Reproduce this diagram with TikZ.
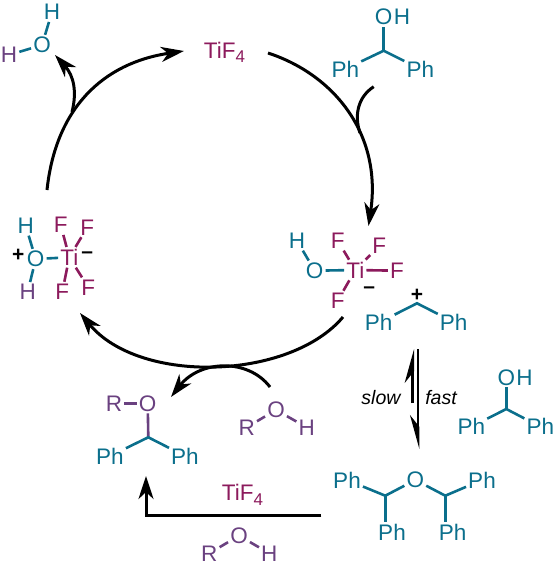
\documentclass[tikz,border=0pt]{standalone}
\usepackage{fontspec}
\setmainfont{Liberation Sans}
\usetikzlibrary{arrows.meta, positioning}
\definecolor{phteal}{HTML}{0B6F8C}
\definecolor{timag}{HTML}{8C1A5C}
\definecolor{rviol}{HTML}{6A4180}
\newcommand{\subfour}{{\fontsize{17}{17}\selectfont\raisebox{-4.5pt}{4}}}

\begin{document}
\begin{tikzpicture}[
  x=1pt, y=-1pt,
  tatom/.style={inner sep=2pt, text=phteal, font=\fontsize{22.5}{24}\selectfont},
  matom/.style={inner sep=2pt, text=timag, font=\fontsize{22.5}{24}\selectfont},
  vatom/.style={inner sep=2pt, text=rviol, font=\fontsize{22.5}{24}\selectfont},
  charge/.style={inner sep=0pt, font=\fontsize{21}{24}\selectfont\bfseries},
  rate/.style={inner sep=0pt, font=\fontsize{19.5}{24}\selectfont\itshape},
  tbond/.style={line width=2.6pt, phteal},
  mbond/.style={line width=2.6pt, timag},
  vbond/.style={line width=2.6pt, rviol},
  arrow/.style={-{Stealth[length=23pt, width=15pt, inset=7pt]}, line width=3pt},
  plain/.style={line width=3pt},
  hookup/.style={-{Stealth[harpoon, length=29pt, width=16pt, inset=10pt]}, line width=2.7pt},
  hookdown/.style={-{Stealth[harpoon, swap, length=29pt, width=16pt, inset=10pt]}, line width=2.7pt},
]
\useasboundingbox (0,0) rectangle (554,565);

% ---- water ----
\node[tatom] (wo) at (42,45) {O};
\node[tatom] (wh) at (52,12) {H};
\node[vatom] (wh2) at (9,55) {H};
\draw[tbond] (wo) -- (wh);
\draw[tbond] (wo) -- (wh2);

% ---- catalyst ----
\node[matom, anchor=base] (tif) at (224.5,58.3) {TiF\subfour};

% ---- benzhydrol, top ----
\node[tatom] (ao) at (383.7,17) {O};
\node[tatom, right=-3pt of ao] (ah) {H};
\coordinate (ac) at (383.7,50.7);
\node[tatom] (apl) at (345.3,69) {Ph};
\node[tatom] (apr) at (420.3,69) {Ph};
\draw[tbond] (ao) -- (ac);
\draw[tbond] (apl) -- (ac) -- (apr);

% ---- right Ti complex ----
\node[tatom] (rh) at (297,240.7) {H};
\node[tatom] (ro) at (314.7,270.7) {O};
\node[matom] (rti) at (355.3,270) {Ti};
\node[matom] (rfa) at (337.7,240.7) {F};
\node[matom] (rfb) at (379.3,246) {F};
\node[matom] (rfc) at (397,270.7) {F};
\node[matom] (rfd) at (337.7,300.7) {F};
\node[charge] (rm) at (369.3,290) {–};
\draw[tbond] (rh) -- (ro);
\draw[tbond] (ro) -- (rti);
\foreach \f in {rfa, rfb, rfc, rfd}
  \draw[mbond] (rti) -- (\f);

% ---- left Ti complex ----
\node[charge] (lp) at (18.3,255.5) {+};
\node[tatom] (lo) at (35.7,259) {O};
\node[tatom] (lh) at (25.7,225.7) {H};
\node[vatom] (lh2) at (27.7,292) {H};
\node[matom] (lti) at (69.3,257.3) {Ti};
\node[matom] (lfa) at (60.7,225) {F};
\node[matom] (lfb) at (87.3,227.3) {F};
\node[matom] (lfc) at (62.3,291.7) {F};
\node[matom] (lfd) at (88.3,287.3) {F};
\node[charge] (lm) at (87.3,255) {–};
\draw[tbond] (lo) -- (lh);
\draw[tbond] (lo) -- (lh2);
\draw[tbond] (lo) -- (lti);
\foreach \f in {lfa, lfb, lfc, lfd}
  \draw[mbond] (lti) -- (\f);

% ---- cation ----
\node[charge] (cp) at (417,295) {+};
\coordinate (cc) at (417,303.3);
\node[tatom] (cpl) at (378.7,322.7) {Ph};
\node[tatom] (cpr) at (453.7,322) {Ph};
\draw[tbond] (cpl) -- (cc) -- (cpr);

% ---- product ----
\node[vatom] (pr) at (114,403.3) {R};
\node[vatom] (po) at (147.7,403.3) {O};
\coordinate (pc) at (148.3,437.3);
\node[tatom] (ppl) at (110,456) {Ph};
\node[tatom] (ppr) at (185,456) {Ph};
\draw[vbond] (pr) -- (po);
\draw[vbond] (po) -- (pc);
\draw[tbond] (ppl) -- (pc) -- (ppr);

% ---- alcohols ----
\node[vatom] (nr) at (246.7,427.3) {R};
\node[vatom] (no) at (276,410) {O};
\node[vatom] (nh) at (306.7,427.3) {H};
\draw[vbond] (nr) -- (no) -- (nh);

\node[vatom] (br) at (209.3,553.3) {R};
\node[vatom] (bo) at (239,535.7) {O};
\node[vatom] (bh) at (269.3,553.3) {H};
\draw[vbond] (br) -- (bo) -- (bh);

% ---- benzhydrol, side ----
\node[tatom] (so) at (506.3,377.3) {O};
\node[tatom, right=-3pt of so] (sh) {H};
\coordinate (sc) at (506.3,409);
\node[tatom] (spl) at (471.3,426.7) {Ph};
\node[tatom] (spr) at (540.3,426.7) {Ph};
\draw[tbond] (so) -- (sc);
\draw[tbond] (spl) -- (sc) -- (spr);

% ---- ether ----
\node[tatom] (eo) at (415.3,480) {O};
\coordinate (ecl) at (385.3,495.7);
\coordinate (ecr) at (445.3,495.7);
\node[tatom] (eta) at (347,480) {Ph};
\node[tatom] (etb) at (482,480) {Ph};
\node[tatom] (eba) at (392,532.7) {Ph};
\node[tatom] (ebb) at (452.7,532.7) {Ph};
\draw[tbond] (eta) -- (ecl) -- (eo) -- (ecr) -- (etb);
\draw[tbond] (ecl) -- (ecl |- eba.north);
\draw[tbond] (ecr) -- (ecr |- ebb.north);

% ---- cycle ----
\coordinate (cya) at (47,190);
\coordinate (cyb) at (184,51);
\coordinate (cyc) at (268,53);
\coordinate (cyd) at (368.5,226);
\coordinate (cye) at (343,317);
\coordinate (cyf) at (80,313);
\draw[arrow] (cya) .. controls (55.7,108) and (103,63) .. (cyb);
\draw[arrow] (cyc) .. controls (335,75) and (382,135) .. (cyd);
\draw[arrow] (cye) .. controls (290,380) and (140,385) .. (cyf);

% ---- branches ----
\coordinate (wbr) at (72,112);
\coordinate (wtp) at (55,55);
\draw[arrow] (wbr) .. controls (77,92) and (74,76) .. (wtp);
\coordinate (abr) at (373.7,86.7);
\coordinate (abe) at (360,133);
\draw[plain] (abr) .. controls (358,97) and (354,115) .. (abe);
\coordinate (nst) at (270,387);
\coordinate (ntp) at (171,397);
\draw[arrow] (nst) .. controls (248,358) and (200,360) .. (ntp);

% ---- equilibrium ----
\coordinate (equa) at (412.7,403);
\coordinate (eqta) at (412.7,349);
\coordinate (equb) at (418,349);
\coordinate (eqtb) at (418,449);
\draw[hookup] (equa) -- (eqta);
\draw[hookdown] (equb) -- (eqtb);
\node[rate] (slow) at (381,398) {slow};
\node[rate] (fast) at (441,398) {fast};

% ---- route to product ----
\coordinate (rst) at (321.3,515.7);
\coordinate (rtp) at (146,476);
\draw[arrow] (rst) -| (rtp);
\node[matom, anchor=base] (tifb) at (242.5,500.7) {TiF\subfour};
\end{tikzpicture}
\end{document}
